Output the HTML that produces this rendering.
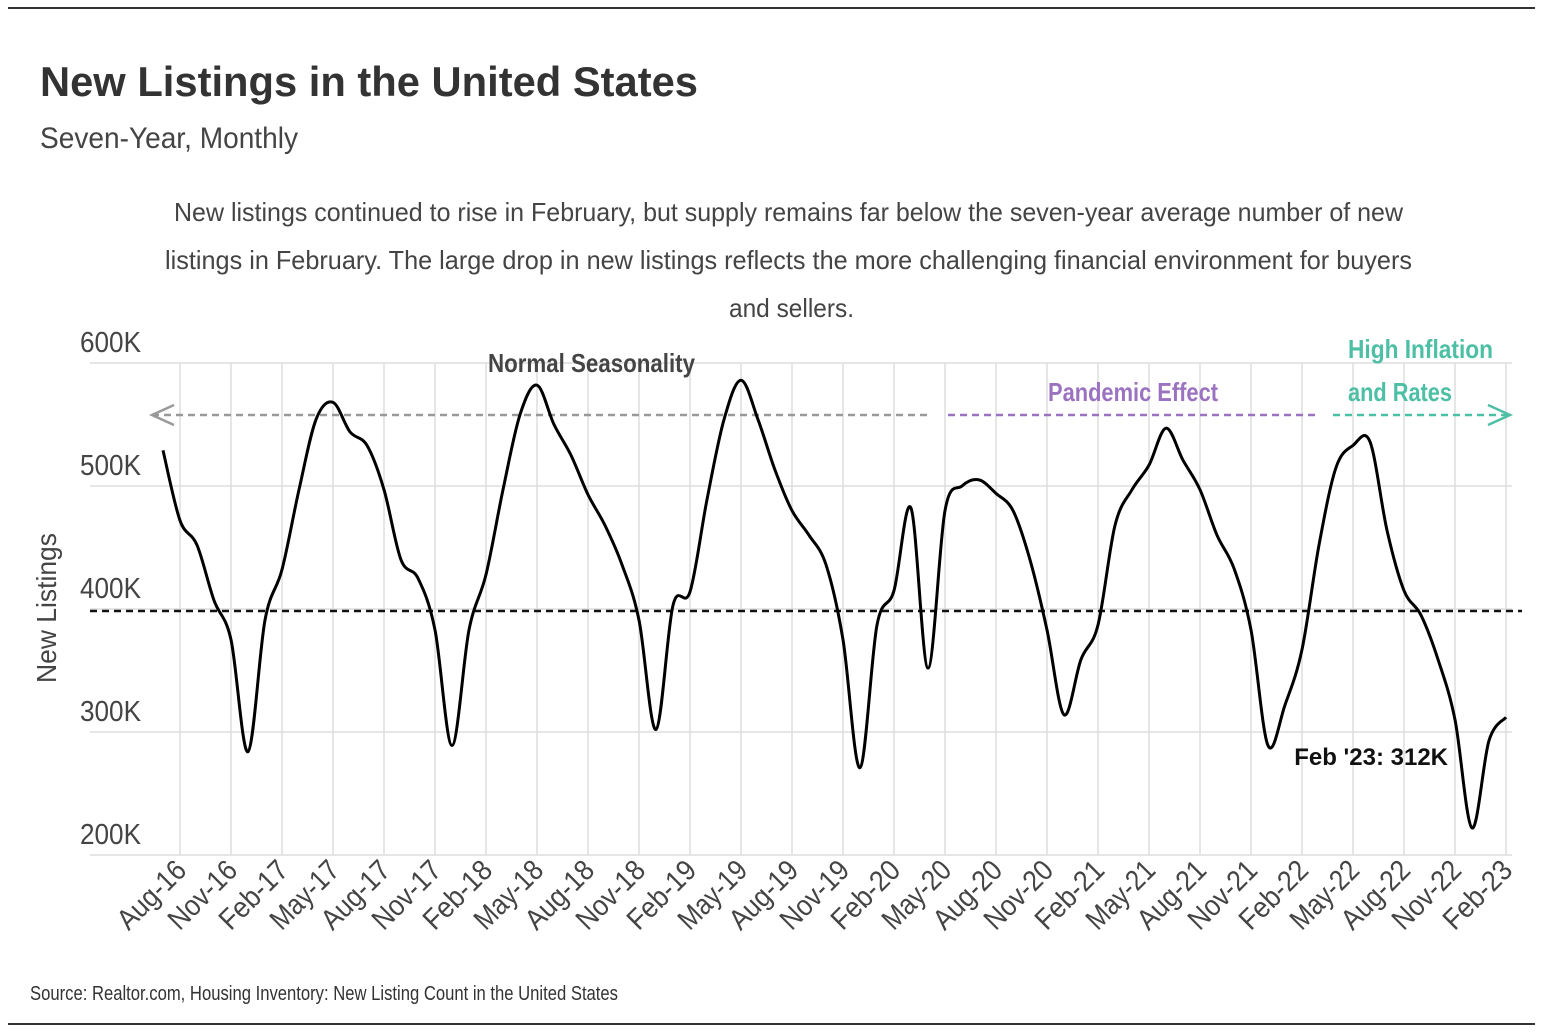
<!DOCTYPE html>
<html><head><meta charset="utf-8"><style>
body{margin:0;background:#fff;}
svg{display:block;font-family:"Liberation Sans Narrow","Liberation Sans",sans-serif;}
</style></head><body>
<svg id="c" width="1544" height="1036" viewBox="0 0 1544 1036">
<line x1="8" y1="8" x2="1535" y2="8" stroke="#333" stroke-width="2"/>
<line x1="8" y1="1024" x2="1535" y2="1024" stroke="#333" stroke-width="2"/>
<text x="40" y="96" font-size="42" font-weight="bold" fill="#333" textLength="658" lengthAdjust="spacingAndGlyphs">New Listings in the United States</text>
<text x="40" y="148" font-size="30" fill="#444" textLength="258" lengthAdjust="spacingAndGlyphs">Seven-Year, Monthly</text>
<g font-size="26" fill="#444">
<text x="174" y="221" textLength="1229" lengthAdjust="spacingAndGlyphs">New listings continued to rise in February, but supply remains far below the seven-year average number of new</text>
<text x="165" y="269" textLength="1247" lengthAdjust="spacingAndGlyphs">listings in February. The large drop in new listings reflects the more challenging financial environment for buyers</text>
<text x="729" y="317" textLength="125" lengthAdjust="spacingAndGlyphs">and sellers.</text>
</g>
<g id="grid"></g>
<g id="yax"></g>
<g id="xax"></g>
<text transform="translate(56,608) rotate(-90)" font-size="28" fill="#444" text-anchor="middle" textLength="150" lengthAdjust="spacingAndGlyphs">New Listings</text>
<line x1="90" y1="611" x2="1522" y2="611" stroke="#111" stroke-width="2.5" stroke-dasharray="7,5"/>
<line x1="152" y1="415" x2="930" y2="415" stroke="#999" stroke-width="2.5" stroke-dasharray="7,5"/>
<polyline points="174,405 152,415 174,425" fill="none" stroke="#999" stroke-width="2.5"/>
<line x1="948" y1="415" x2="1318" y2="415" stroke="#9b72c0" stroke-width="2.5" stroke-dasharray="7,5"/>
<line x1="1333" y1="415" x2="1508" y2="415" stroke="#4dbfa5" stroke-width="2.5" stroke-dasharray="7,5"/>
<polyline points="1488,405 1510,415 1488,425" fill="none" stroke="#4dbfa5" stroke-width="2.5"/>
<text x="488" y="372" font-size="26" font-weight="bold" fill="#444" textLength="207" lengthAdjust="spacingAndGlyphs">Normal Seasonality</text>
<text x="1048" y="401" font-size="26" font-weight="bold" fill="#9b72c0" textLength="170" lengthAdjust="spacingAndGlyphs">Pandemic Effect</text>
<text x="1348" y="358" font-size="26" font-weight="bold" fill="#4dbfa5" textLength="145" lengthAdjust="spacingAndGlyphs">High Inflation</text>
<text x="1348" y="401" font-size="26" font-weight="bold" fill="#4dbfa5" textLength="104" lengthAdjust="spacingAndGlyphs">and Rates</text>
<path id="line" fill="none" stroke="#000" stroke-width="3"/>
<text x="1448" y="765" font-size="24" font-weight="bold" fill="#111" text-anchor="end">Feb '23: 312K</text>
<text x="30" y="1000" font-size="20" fill="#333" textLength="588" lengthAdjust="spacingAndGlyphs">Source:  Realtor.com, Housing Inventory: New Listing Count in the United States</text>
</svg>
<script>
const values = [529,472,452,407,375,284,391,432,497,554,568,544,533,497,440,425,383,289,383,428,497,558,582,550,525,493,468,436,391,302,403,414,489,554,586,554,513,480,460,436,375,271,387,415,482,352,480,500,505,494,480,440,383,314,359,387,468,497,517,547,521,497,460,433,383,289,322,367,452,515,533,536,464,415,395,359,310,222,293,312];
const xTickLabels = ["Aug-16","Nov-16","Feb-17","May-17","Aug-17","Nov-17","Feb-18","May-18","Aug-18","Nov-18","Feb-19","May-19","Aug-19","Nov-19","Feb-20","May-20","Aug-20","Nov-20","Feb-21","May-21","Aug-21","Nov-21","Feb-22","May-22","Aug-22","Nov-22","Feb-23"];
const yTicks = [200,300,400,500,600];
const yTickLabels = ["200K","300K","400K","500K","600K"];
const NS="http://www.w3.org/2000/svg";
const x = i => 163 + 17.0*i;           // month index from Jul-16
const y = v => 855 - (v-200)*1.23;
const grid=document.getElementById('grid'), yax=document.getElementById('yax'), xax=document.getElementById('xax');
yTicks.forEach((t,k)=>{
  const l=document.createElementNS(NS,'line');
  
  
  l.setAttribute('x1',90);l.setAttribute('x2',1512);l.setAttribute('y1',y(t));l.setAttribute('y2',y(t));
  l.setAttribute('stroke','#ddd');l.setAttribute('stroke-width','1.5');grid.appendChild(l);
  const tx=document.createElementNS(NS,'text');
  
  
  tx.setAttribute('x',80);tx.setAttribute('y',y(t)-11);tx.setAttribute('font-size','29');tx.setAttribute('fill','#444');
  tx.setAttribute('textLength','61');tx.setAttribute('lengthAdjust','spacingAndGlyphs');
  tx.textContent=yTickLabels[k];yax.appendChild(tx);
});
xTickLabels.forEach((s,k)=>{
  const i=1+3*k, xx=x(i);
  const l=document.createElementNS(NS,'line');
  
  
  l.setAttribute('x1',xx);l.setAttribute('x2',xx);l.setAttribute('y1',363);l.setAttribute('y2',855);
  l.setAttribute('stroke','#ddd');l.setAttribute('stroke-width','1.5');grid.appendChild(l);
  const tx=document.createElementNS(NS,'text');
  
  
  tx.setAttribute('text-anchor','end');tx.setAttribute('font-size','29');tx.setAttribute('fill','#444');
  tx.setAttribute('textLength','84');tx.setAttribute('lengthAdjust','spacingAndGlyphs');
  tx.setAttribute('transform',`translate(${xx+8},${872}) rotate(-45)`);
  tx.textContent=s;xax.appendChild(tx);
});
const pts=values.map((v,i)=>[x(i),y(v)]);
let d=`M${pts[0][0]},${pts[0][1]}`;
for(let i=0;i<pts.length-1;i++){
  const p0=pts[Math.max(0,i-1)],p1=pts[i],p2=pts[i+1],p3=pts[Math.min(pts.length-1,i+2)];
  const c1=[p1[0]+(p2[0]-p0[0])/6,p1[1]+(p2[1]-p0[1])/6];
  const c2=[p2[0]-(p3[0]-p1[0])/6,p2[1]-(p3[1]-p1[1])/6];
  d+=` C${c1[0]},${c1[1]} ${c2[0]},${c2[1]} ${p2[0]},${p2[1]}`;
}
document.getElementById('line').setAttribute('d',d);
</script>
</body></html>
